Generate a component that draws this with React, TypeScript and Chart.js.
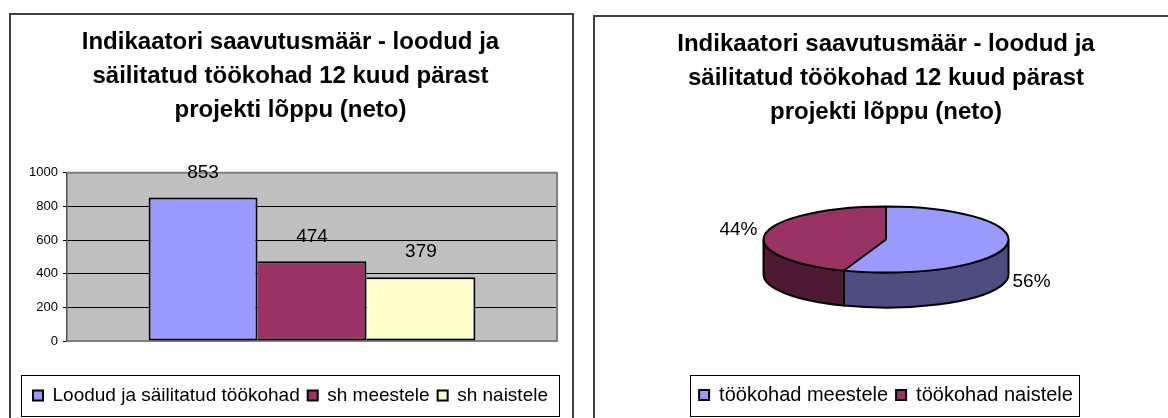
import React, { useEffect, useRef } from "react";
import { Chart, registerables } from "chart.js";

Chart.register(...registerables);

const titleLines = ["Indikaatori saavutusmäär - loodud ja", "säilitatud töökohad 12 kuud pärast", "projekti lõppu (neto)"];
const barCategories = [""];
const barNames = ["Loodud ja säilitatud töökohad", "sh meestele", "sh naistele"];
const barValues = [853, 474, 379];
const barColors = ["#9999FF", "#993366", "#FFFFCC"];
const pieNames = ["töökohad meestele", "töökohad naistele"];
const pieValues = [474, 379];
const pieLabels = ["56%", "44%"];
const pieColors = ["#9999FF", "#993366"];
const pieSideColors = ["#4D4D80", "#4D1A33"];
const FONT = "'Liberation Sans', Arial, sans-serif";

const legendBox = {
  id: "legendBox",
  afterDraw(chart: any) {
    const o = chart.options.plugins.legendBox;
    const ctx = chart.ctx;
    ctx.save();
    ctx.strokeStyle = "#000";
    ctx.lineWidth = 1;
    ctx.strokeRect(o.x + 0.5, o.y + 0.5, o.w, o.h);
    ctx.restore();
  },
};

const barLabels = {
  id: "barLabels",
  afterDatasetsDraw(chart: any) {
    const ctx = chart.ctx;
    ctx.save();
    ctx.font = `19px ${FONT}`;
    ctx.fillStyle = "#000";
    ctx.textAlign = "center";
    ctx.textBaseline = "middle";
    chart.data.datasets.forEach((d: any, i: number) => {
      const el = chart.getDatasetMeta(i).data[0];
      ctx.fillText(String(d.data[0]), el.x, el.y - 25);
    });
    ctx.restore();
  },
};

const SQUASH = 0.27;
const DEPTH = 35;
const CENTER_Y = 239.5;
const pie3d = {
  id: "pie3d",
  beforeDatasetsDraw(chart: any) {
    const ctx = chart.ctx;
    const meta = chart.getDatasetMeta(0);
    const first = meta.data[0];
    const cx = first.x, cy = first.y, r = first.outerRadius;
    ctx.save();
    ctx.lineWidth = 2;
    ctx.strokeStyle = "#000";
    meta.data.forEach((arc: any, i: number) => {
      const a0 = Math.max(arc.startAngle, 0);
      const a1 = Math.min(arc.endAngle, Math.PI);
      if (a1 <= a0) return;
      ctx.beginPath();
      ctx.ellipse(cx, CENTER_Y, r, r * SQUASH, 0, a0, a1);
      ctx.ellipse(cx, CENTER_Y + DEPTH, r, r * SQUASH, 0, a1, a0, true);
      ctx.closePath();
      ctx.fillStyle = pieSideColors[i];
      ctx.fill();
      ctx.stroke();
    });
    ctx.restore();
    ctx.save();
    ctx.translate(0, CENTER_Y);
    ctx.scale(1, SQUASH);
    ctx.translate(0, -cy);
  },
  afterDatasetsDraw(chart: any) {
    const ctx = chart.ctx;
    ctx.restore();
    const meta = chart.getDatasetMeta(0);
    const first = meta.data[0];
    const cx = first.x, r = first.outerRadius;
    ctx.save();
    ctx.lineWidth = 2;
    ctx.strokeStyle = "#000";
    ctx.beginPath();
    ctx.ellipse(cx, CENTER_Y, r, r * SQUASH, 0, 0, Math.PI * 2);
    meta.data.forEach((arc: any) => {
      ctx.moveTo(cx, CENTER_Y);
      ctx.lineTo(cx + Math.cos(arc.startAngle) * r, CENTER_Y + Math.sin(arc.startAngle) * r * SQUASH);
    });
    ctx.stroke();
    ctx.font = `19px ${FONT}`;
    ctx.fillStyle = "#000";
    ctx.textBaseline = "middle";
    ctx.textAlign = "left";
    ctx.fillText(pieLabels[0], cx + r + 4, CENTER_Y + 42);
    ctx.textAlign = "right";
    ctx.fillText(pieLabels[1], cx - r - 6, CENTER_Y - 10);
    ctx.restore();
  },
};

const titleOpt = (top: number) => ({
  display: true,
  text: titleLines,
  color: "#000",
  font: { family: FONT, size: 24, weight: "bold" as const, lineHeight: 1.4 },
  padding: { top, bottom: 46 },
});

const legendOpt = {
  position: "bottom" as const,
  labels: { color: "#000", font: { family: FONT, size: 19 }, boxWidth: 10, boxHeight: 10, padding: 8 },
};

function BarChart() {
  const ref = useRef<HTMLCanvasElement>(null);
  useEffect(() => {
    const chart = new Chart(ref.current!, {
      type: "bar",
      data: {
        labels: barCategories,
        datasets: barNames.map((n, i) => ({
          label: n,
          data: [barValues[i]],
          backgroundColor: barColors[i],
          borderColor: "#000",
          borderWidth: 2,
          borderSkipped: i === 0 ? false : "left",
          barPercentage: 1,
          categoryPercentage: 0.667,
        })),
      },
      options: {
        responsive: false,
        animation: false,
        layout: { padding: { right: 17, left: 24, bottom: 3 } },
        scales: {
          x: {
            afterFit: (s: any) => { s.height = 37; },
            grid: { display: false, drawTicks: false },
            border: { display: false },
            ticks: { display: false },
          },
          y: {
            min: 0,
            max: 1000,
            afterFit: (s: any) => { s.width = 43; },
            ticks: { stepSize: 200, color: "#000", font: { family: FONT, size: 13 }, padding: 5, callback: (v: any) => String(v) },
            grid: {
              color: (c: any) => (c.tick && (c.tick.value === 0 || c.tick.value === 1000) ? "#808080" : "#000"),
              lineWidth: 1,
              tickLength: 4,
              tickColor: "#000",
            },
            border: { color: "#505050", width: 1.5 },
          },
        },
        plugins: {
          title: titleOpt(26),
          tooltip: { enabled: false },
          legend: legendOpt,
          legendBox: { x: 21, y: 375, w: 538, h: 41 },
        } as any,
      },
      plugins: [
        {
          id: "plotBg",
          beforeDraw(c: any) {
            const a = c.chartArea;
            c.ctx.save();
            c.ctx.fillStyle = "#C0C0C0";
            c.ctx.fillRect(a.left, a.top, a.width, a.height);
            c.ctx.restore();
          },
          beforeDatasetsDraw(c: any) {
            const a = c.chartArea;
            const ctx = c.ctx;
            ctx.save();
            ctx.strokeStyle = "#808080";
            ctx.lineWidth = 2;
            ctx.beginPath();
            ctx.moveTo(a.left, a.top);
            ctx.lineTo(a.right, a.top);
            ctx.lineTo(a.right, a.bottom);
            ctx.lineTo(a.left, a.bottom);
            ctx.stroke();
            ctx.restore();
          },
        },
        barLabels,
        legendBox,
      ],
    });
    return () => chart.destroy();
  }, []);
  return <canvas ref={ref} width={574} height={418} style={{ position: "absolute", left: 0, top: 0 }} />;
}

function PieChart() {
  const ref = useRef<HTMLCanvasElement>(null);
  useEffect(() => {
    const chart = new Chart(ref.current!, {
      type: "pie",
      data: {
        labels: pieNames,
        datasets: [
          {
            data: pieValues,
            backgroundColor: pieColors,
            borderColor: "#000",
            borderWidth: 0,
            radius: 122.5,
          } as any,
        ],
      },
      options: {
        responsive: false,
        animation: false,
        layout: { padding: { bottom: 3 } },
        plugins: {
          title: titleOpt(28),
          tooltip: { enabled: false },
          legend: {
            ...legendOpt,
            labels: {
              ...legendOpt.labels,
              font: { family: FONT, size: 20 },
              generateLabels: (c: any) =>
                Chart.overrides.pie.plugins.legend.labels.generateLabels(c).map((l: any) => ({ ...l, strokeStyle: "#000", lineWidth: 2 })),
            },
          },
          legendBox: { x: 96, y: 375, w: 389, h: 41 },
        } as any,
      },
      plugins: [pie3d, legendBox],
    });
    return () => chart.destroy();
  }, []);
  return <canvas ref={ref} width={584} height={418} style={{ position: "absolute", left: 594, top: 0 }} />;
}

export default function App() {
  return (
    <div style={{ position: "absolute", left: 0, top: 0, width: 1168, height: 418, background: "#fff", overflow: "hidden" }}>
      <BarChart />
      <PieChart />
      <div style={{ position: "absolute", left: 9, top: 13, width: 565, height: 420, border: "2px solid #404040", boxSizing: "border-box" }} />
      <div style={{ position: "absolute", left: 593, top: 15, width: 600, height: 420, border: "2px solid #404040", boxSizing: "border-box" }} />
    </div>
  );
}
